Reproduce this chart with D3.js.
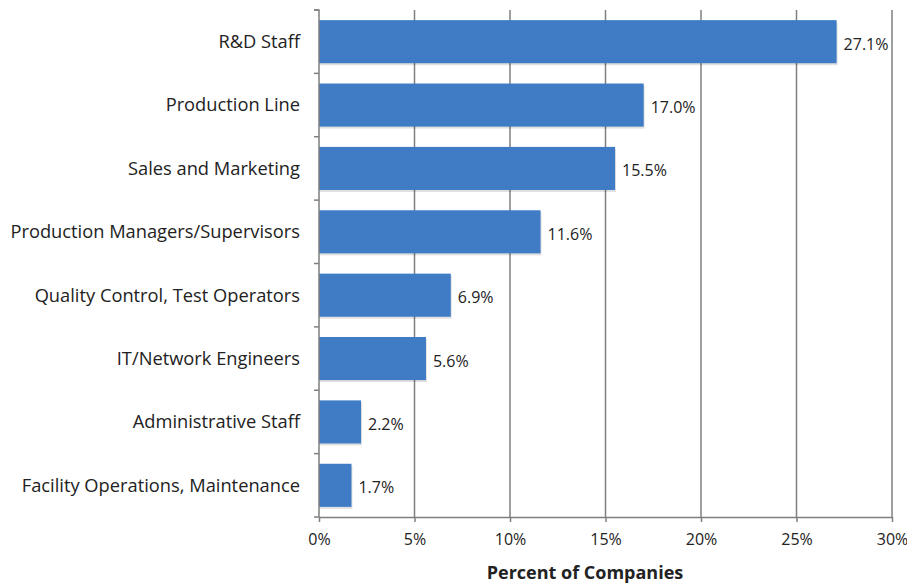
<!DOCTYPE html>
<html><head><meta charset="utf-8">
<script src="https://cdn.jsdelivr.net/npm/d3@7"></script>
<style>body{margin:0;background:#fff;} svg{display:block;font-family:"Open Sans",sans-serif;}</style>
</head><body>
<svg id="c" width="907" height="586"></svg>
<script>
const categories = ["R&D Staff","Production Line","Sales and Marketing","Production Managers/Supervisors","Quality Control, Test Operators","IT/Network Engineers","Administrative Staff","Facility Operations, Maintenance"];
const values = [27.1,17.0,15.5,11.6,6.9,5.6,2.2,1.7];
const xTicks = [0,5,10,15,20,25,30];
const xTitle = "Percent of Companies";

(function(){
const svg = d3.select("#c");
const pL = 319, pR = 892, pT = 10, pB = 517;
const F = '"Open Sans",sans-serif';
const x = d3.scaleLinear().domain([0,30]).range([pL,pR]);
const y = d3.scaleBand().domain(categories).range([pT,pB]).paddingInner(0.32).paddingOuter(0.16);

svg.append("g").selectAll("line").data(xTicks.slice(1)).join("line")
  .attr("x1",d=>x(d)).attr("x2",d=>x(d)).attr("y1",pT).attr("y2",pB)
  .attr("stroke","#7f7f7f").attr("stroke-width",1.5);

svg.append("g").selectAll("rect").data(values).join("rect")
  .attr("x",x(0)+1).attr("y",(d,i)=>y(categories[i])+2)
  .attr("width",d=>x(d)-x(0)).attr("height",y.bandwidth())
  .attr("fill","#000").attr("opacity",0.12);
svg.append("g").selectAll("rect").data(values).join("rect")
  .attr("x",x(0)).attr("y",(d,i)=>y(categories[i]))
  .attr("width",d=>x(d)-x(0)).attr("height",y.bandwidth())
  .attr("fill","#3f7cc5");

svg.append("g").selectAll("text").data(values).join("text")
  .attr("x",d=>x(d)+7).attr("y",(d,i)=>y(categories[i])+y.bandwidth()/2+8)
  .attr("font-size",16).attr("fill","#222").attr("font-family",F)
  .text(d=>d.toFixed(1)+"%");

const xa = svg.append("g").attr("transform",`translate(0,${pB})`)
  .call(d3.axisBottom(x).tickValues(xTicks).tickFormat(d=>d+"%").tickSize(5).tickSizeOuter(0));
xa.select(".domain").attr("stroke","#7f7f7f").attr("stroke-width",1.5);
xa.selectAll(".tick line").attr("stroke","#7f7f7f").attr("stroke-width",1.5);
xa.selectAll("text").attr("font-size",16).attr("fill","#222").attr("dy","1.25em").attr("font-family",F);

const ya = svg.append("g").attr("transform",`translate(${pL},0)`)
  .call(d3.axisLeft(y).tickSize(0).tickPadding(19));
ya.select(".domain").attr("stroke","#7f7f7f").attr("stroke-width",1.5).attr("d",`M-5,${pT}H0V${pB}`);
ya.selectAll("text").attr("font-size",18.3).attr("fill","#222").attr("font-family",F).attr("dy","0.35em");
const seps = categories.map((c,i)=> i===0 ? pT : y(c) - y.step()*y.paddingInner()/2).concat([pB]);
svg.append("g").selectAll("line").data(seps).join("line")
  .attr("x1",pL-5).attr("x2",pL).attr("y1",d=>d).attr("y2",d=>d)
  .attr("stroke","#7f7f7f").attr("stroke-width",1.5);

svg.append("text").attr("x",585).attr("y",579).attr("text-anchor","middle")
  .attr("font-size",18).attr("font-weight","bold").attr("fill","#222").attr("font-family",F).text(xTitle);
})();
</script>
</body></html>
